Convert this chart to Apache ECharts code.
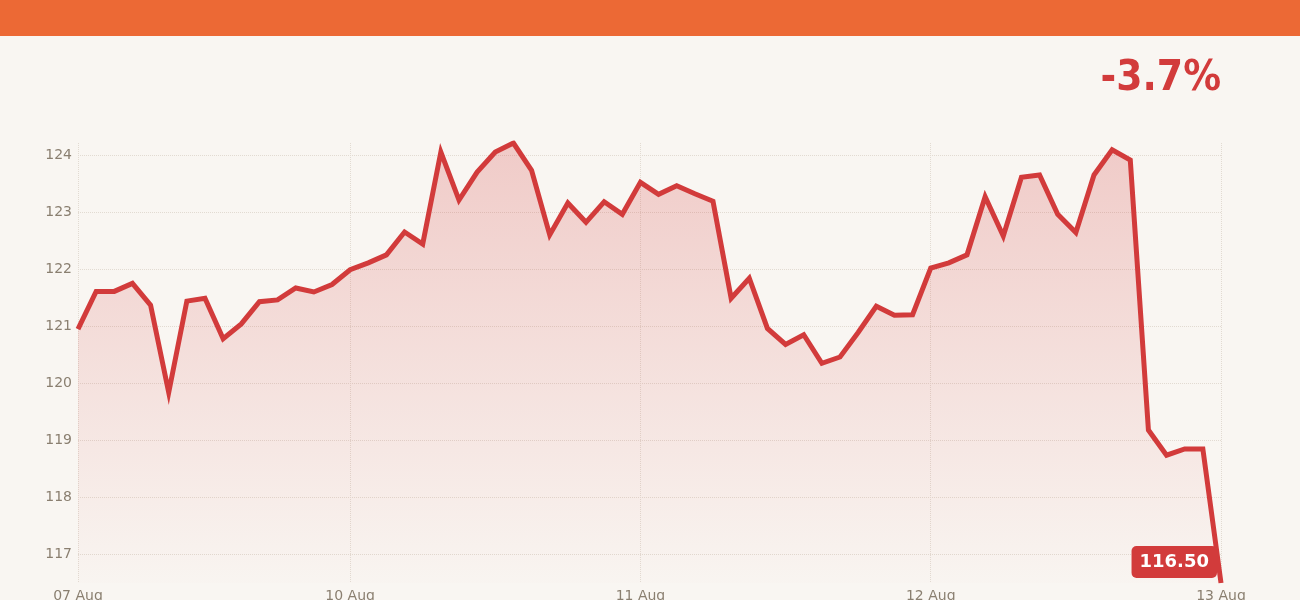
<!DOCTYPE html>
<html>
<head>
<meta charset="utf-8">
<script src="https://cdn.jsdelivr.net/npm/echarts@6/dist/echarts.min.js"></script>
<style>
html,body{margin:0;padding:0;background:#f9f6f2;}
#chart{width:1300px;height:600px;}
</style>
</head>
<body>
<div id="chart"></div>
<script>
const categories = [
  '07 Aug','07 Aug','07 Aug','07 Aug','07 Aug','07 Aug','07 Aug','07 Aug','07 Aug','07 Aug','07 Aug','07 Aug','07 Aug','07 Aug','07 Aug',
  '10 Aug','10 Aug','10 Aug','10 Aug','10 Aug','10 Aug','10 Aug','10 Aug','10 Aug','10 Aug','10 Aug','10 Aug','10 Aug','10 Aug','10 Aug','10 Aug',
  '11 Aug','11 Aug','11 Aug','11 Aug','11 Aug','11 Aug','11 Aug','11 Aug','11 Aug','11 Aug','11 Aug','11 Aug','11 Aug','11 Aug','11 Aug','11 Aug',
  '12 Aug','12 Aug','12 Aug','12 Aug','12 Aug','12 Aug','12 Aug','12 Aug','12 Aug','12 Aug','12 Aug','12 Aug','12 Aug','12 Aug','12 Aug','12 Aug',
  '13 Aug'
];
const prices = [
  120.95,121.61,121.61,121.75,121.37,119.84,121.44,121.49,120.78,121.04,121.43,121.46,121.67,121.60,121.73,
  121.99,122.11,122.25,122.65,122.44,124.05,123.21,123.70,124.05,124.21,123.73,122.60,123.16,122.82,123.18,122.96,
  123.52,123.31,123.46,123.32,123.19,121.49,121.84,120.96,120.68,120.85,120.35,120.46,120.89,121.35,121.19,121.20,
  122.02,122.11,122.25,123.27,122.58,123.61,123.65,122.96,122.64,123.65,124.09,123.91,119.18,118.74,118.85,118.85,
  116.50
];

const first = prices[0], last = prices[prices.length - 1];
const changePct = (last - first) / first * 100;
const changeText = (changePct >= 0 ? '+' : '') + changePct.toFixed(1) + '%';

const FONT = 'DejaVu Sans';
const RED = '#d23b3b';
const LABEL = '#8a7f70';
const GRIDC = '#e2dbd2';

function isDayStart(index) {
  return index === 0 || categories[index - 1] !== categories[index];
}

const chart = echarts.init(document.getElementById('chart'));
chart.setOption({
  backgroundColor: '#f9f6f2',
  animation: false,
  textStyle: { fontFamily: FONT },
  graphic: [
    { type: 'rect', left: 0, top: 0, shape: { width: 1300, height: 36 }, style: { fill: '#ec6935' } },
    { type: 'text', right: 79, top: 58,
      style: { text: changeText, fill: RED, font: 'bold 42px "DejaVu Sans Condensed", "DejaVu Sans"' } }
  ],
  grid: { left: 78, right: 79, top: 143, bottom: 17, containLabel: false, outerBoundsMode: 'none' },
  xAxis: {
    type: 'category',
    data: categories,
    boundaryGap: false,
    axisLine: { show: false },
    axisTick: { show: false },
    axisLabel: {
      interval: (i) => isDayStart(i),
      color: LABEL, fontSize: 14, fontFamily: FONT, margin: 6
    },
    splitLine: {
      show: true,
      interval: (i) => isDayStart(i),
      lineStyle: { color: GRIDC, type: 'dotted', width: 1 }
    }
  },
  yAxis: {
    type: 'value',
    min: 'dataMin',
    max: 'dataMax',
    splitNumber: 8,
    axisLine: { show: false },
    axisTick: { show: false },
    axisLabel: {
      color: LABEL, fontSize: 14, fontFamily: FONT, margin: 6,
      showMinLabel: false, showMaxLabel: false
    },
    splitLine: {
      show: true, showMinLine: false, showMaxLine: false,
      lineStyle: { color: GRIDC, type: 'dotted', width: 1 }
    }
  },
  series: [{
    type: 'line',
    data: prices,
    showSymbol: false,
    symbol: 'none',
    lineStyle: { color: RED, width: 5, join: 'miter' },
    areaStyle: {
      origin: 'start',
      color: new echarts.graphic.LinearGradient(0, 0, 0, 1, [
        { offset: 0, color: 'rgba(210,59,59,0.33)' },
        { offset: 1, color: 'rgba(210,59,59,0.01)' }
      ])
    },
    markPoint: {
      symbol: 'circle',
      symbolSize: 0,
      data: [{ coord: [prices.length - 1, last], value: last }],
      label: {
        show: true,
        position: 'left',
        distance: 4,
        offset: [0, -21],
        formatter: (p) => Number(p.value).toFixed(2),
        color: '#ffffff',
        fontWeight: 'bold',
        fontSize: 18,
        fontFamily: FONT,
        backgroundColor: RED,
        borderRadius: 5,
        padding: [7, 8]
      }
    }
  }]
});
</script>
</body>
</html>
